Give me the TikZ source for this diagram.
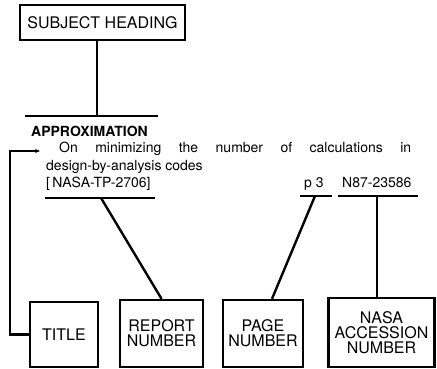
\documentclass[tikz,border=0pt]{standalone}
\usepackage{fontspec}
\setmainfont{TeX Gyre Heros}
\usepackage{tikz}
\usetikzlibrary{arrows.meta}

\begin{document}
\begin{tikzpicture}[x=1pt,y=-1pt,line width=2.4pt,
    labelbox/.style={draw,align=center,inner sep=0pt,font=\fontsize{16}{15}\selectfont},
    citetext/.style={anchor=base west,inner sep=0pt,font=\fontsize{14}{17}\selectfont}]
                \useasboundingbox (0,0) rectangle (437,369);
                % Subject heading and its bar
                \node[labelbox,minimum width=165pt,minimum height=35pt] (heading) at (102.5,22.5) {SUBJECT HEADING};
                \coordinate (hbarL) at (25,116);
                \coordinate (hbarR) at (158,116);
                \coordinate (hjoin) at (97,116);
                \draw (hbarL) -- (hbarR);
                \draw (heading.south -| hjoin) -- (hjoin);
                % The citation
                \node[citetext,font=\bfseries\fontsize{14}{17}\selectfont] (subj) at (30,136) {APPROXIMATION};
                \node[citetext] (tline1) at (58,153) {\makebox[352pt][s]{On minimizing the number of calculations in}};
                \node[citetext] (tline2) at (45,170) {design-by-analysis codes};
                \node[citetext] (rptnum) at (45,187) {[\,NASA-TP-2706]};
                \node[citetext] (pgnum) at (303,187) {p 3};
                \node[citetext] (accnum) at (341,187) {N87-23586};
                % Bars under the numbers
                \coordinate (rbarL) at (45,198);
                \coordinate (rbarR) at (155,198);
                \coordinate (rjoin) at (101,198);
                \coordinate (pbarL) at (300,196);
                \coordinate (pbarR) at (332,196);
                \coordinate (pjoin) at (315,196);
                \coordinate (abarL) at (338,196);
                \coordinate (abarR) at (418,196);
                \coordinate (ajoin) at (377,196);
                \draw (rbarL) -- (rbarR);
                \draw (pbarL) -- (pbarR);
                \draw (abarL) -- (abarR);
                % Label boxes
                \node[labelbox,minimum width=68pt,minimum height=65pt] (title) at (64,334.5) {TITLE};
                \node[labelbox,minimum width=83pt,minimum height=67pt] (report) at (161.5,333.5) {REPORT\\NUMBER};
                \node[labelbox,minimum width=80pt,minimum height=67pt] (page) at (263,333.5) {PAGE\\NUMBER};
                \node[labelbox,minimum width=106pt,minimum height=69pt] (nasa) at (381.5,332.5) {NASA\\ACCESSION\\NUMBER};
                % Connectors
                \coordinate (tloop) at (10,151);
                \coordinate (tarrow) at (40,151);
                \draw[-{Stealth[length=5pt,width=4pt]}] (title.west) -| (tloop) -- (tarrow);
                \draw (rjoin) -- (report.north);
                \draw (pjoin) -- ([xshift=9pt]page.north);
                \draw (ajoin) -- (ajoin |- nasa.north);
            \end{tikzpicture}
\end{document}
